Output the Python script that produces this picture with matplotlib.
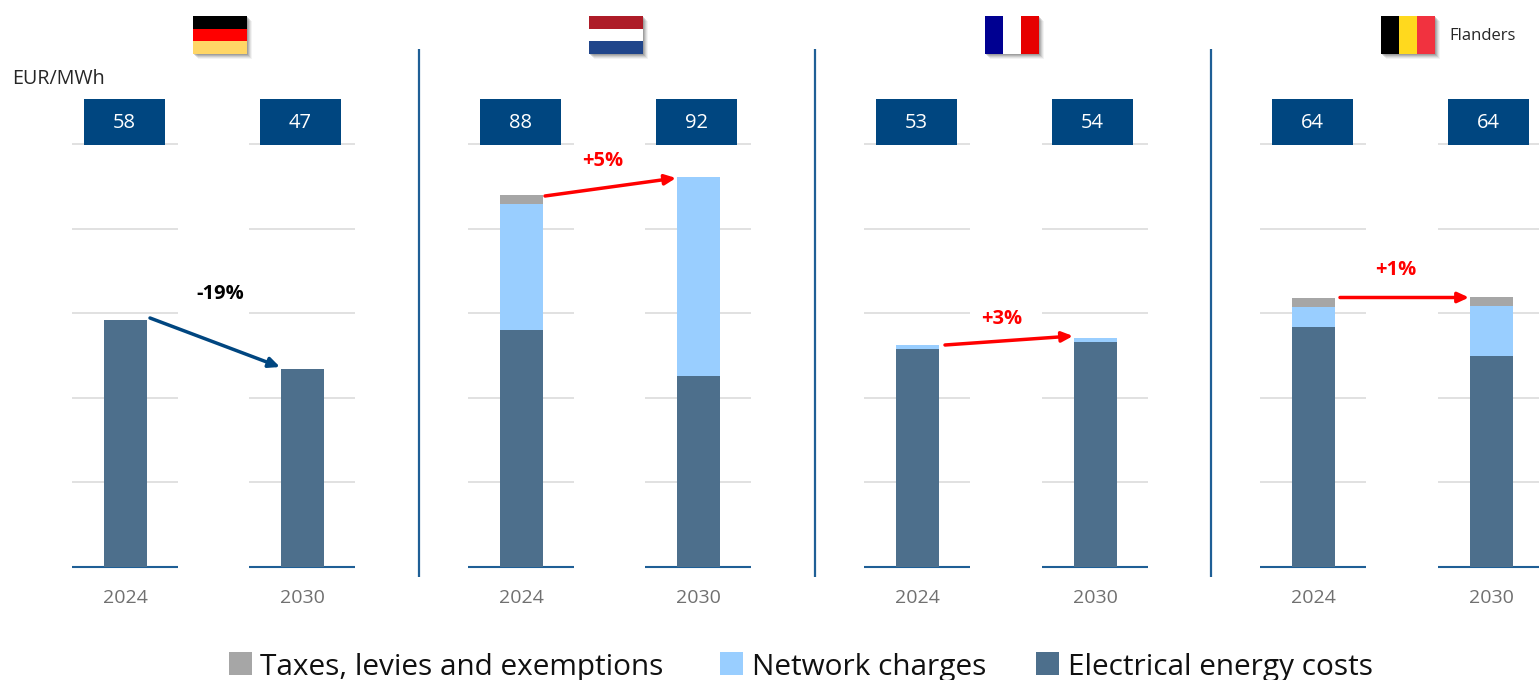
import matplotlib
matplotlib.use("Agg")
import matplotlib.pyplot as plt
from matplotlib.patches import Rectangle

plt.rcParams['font.family'] = ['Open Sans', 'DejaVu Sans']

W, H = 1539, 680
years = ["2024", "2030"]
countries = ["Germany", "Netherlands", "France", "Belgium"]
totals = [58, 47, 88, 92, 53, 54, 64, 64]
energy = [58.4, 46.8, 56.0, 45.2, 51.5, 53.2, 56.7, 49.9]
network = [0.0, 0.0, 29.8, 47.0, 1.0, 0.9, 4.7, 11.8]
taxes = [0.0, 0.0, 2.1, 0.0, 0.0, 0.0, 2.1, 2.1]
changes = ["-19%", "+5%", "+3%", "+1%"]
series_names = ["Taxes, levies and exemptions", "Network charges", "Electrical energy costs"]

C_ENERGY, C_NET, C_TAX = "#4d6f8c", "#99ceff", "#a6a6a6"
NAVY = "#004680"
DIV = "#1f5f96"

panel_left = [72, 249, 468, 645, 864, 1042, 1260, 1438]
PW = 106
Y0, Y100 = 567, 144
BAR_X = 0.005
BAR_W = 0.405

fig = plt.figure(figsize=(W / 100, H / 100), dpi=100, facecolor="white")

for i, left in enumerate(panel_left):
    ax = fig.add_axes([left / W, 1 - Y0 / H, PW / W, (Y0 - Y100) / H])
    ax.set_xlim(-0.5, 0.5)
    ax.set_ylim(0, 100)
    ax.bar(BAR_X, energy[i], BAR_W, color=C_ENERGY, zorder=3)
    ax.bar(BAR_X, network[i], BAR_W, bottom=energy[i], color=C_NET, zorder=3)
    ax.bar(BAR_X, taxes[i], BAR_W, bottom=energy[i] + network[i], color=C_TAX, zorder=3)
    ax.set_yticks([20, 40, 60, 80, 100])
    ax.grid(axis="y", color="#d9d9d9", lw=1.1, zorder=0)
    ax.set_xticks([0])
    ax.set_xticklabels([years[i % 2]], fontsize=14, color="#707070")
    ax.tick_params(axis="both", length=0, labelleft=False, pad=16)
    for s in ("top", "left", "right"):
        ax.spines[s].set_visible(False)
    ax.spines["bottom"].set_color(DIV)
    ax.spines["bottom"].set_linewidth(1.5)
    ax.spines["bottom"].set_capstyle("butt")
    ax.patch.set_alpha(0)
    for g in ax.get_ygridlines():
        g.set_clip_on(False)
        g.set_solid_capstyle("butt")

ov = fig.add_axes([0, 0, 1, 1], zorder=10)
ov.set_xlim(0, W)
ov.set_ylim(H, 0)
ov.axis("off")

# header boxes
for left, t in zip([84, 260, 480, 656, 876, 1052, 1272, 1448], totals):
    ov.add_patch(Rectangle((left, 99), 80.5, 46, fc=NAVY, ec="none"))
    ov.text(left + 40, 122.5, str(t), color="white", fontsize=14.5, ha="center", va="center")

# dividers
for x in [419, 815, 1211]:
    ov.plot([x, x], [49, 577], color=DIV, lw=1.6, solid_capstyle="butt")


def flag(x, stripes, vertical=False):
    w, h = 54, 38
    for d, a in [(6, 0.08), (5, 0.12), (4, 0.18), (3, 0.25), (2, 0.3)]:
        ov.add_patch(Rectangle((x + d - 1, 16 + d - 1), w, h, fc="#6e6e6e", ec="none", alpha=a))
    n = len(stripes)
    for k, c in enumerate(stripes):
        if vertical:
            ov.add_patch(Rectangle((x + k * w / n, 16), w / n, h, fc=c, ec="none"))
        else:
            ov.add_patch(Rectangle((x, 16 + k * h / n), w, h / n, fc=c, ec="none"))


flag(193, ["#000000", "#ff0000", "#ffd666"])
flag(589, ["#ae1c28", "#ffffff", "#21468b"])
flag(985, ["#000091", "#ffffff", "#e60000"], vertical=True)
flag(1381, ["#000000", "#ffd91e", "#f1323f"], vertical=True)
ov.text(1449, 36.5, "Flanders", fontsize=12, color="#262626", va="center")
ov.text(12, 78.5, "EUR/MWh", fontsize=14.2, color="#262626", va="center")

# change arrows
arrows = [
    (150, 318, 280, 367, NAVY, 220, 294, "black"),
    (545, 196, 676, 178, "#ff0000", 603, 161, "#ff0000"),
    (945, 345, 1073, 336, "#ff0000", 1002, 319, "#ff0000"),
    (1340, 297.5, 1469, 297.5, "#ff0000", 1396, 270, "#ff0000"),
]
for (x0, y0, x1, y1, c, tx, ty, tc), lab in zip(arrows, changes):
    ov.annotate("", xy=(x1, y1), xytext=(x0, y0),
                arrowprops=dict(arrowstyle="-|>,head_length=0.65,head_width=0.3",
                                color=c, lw=2.5, shrinkA=0, shrinkB=0))
    ov.text(tx, ty, lab, color=tc, fontsize=14.5, fontweight="bold", ha="center", va="center")

# legend
for sx, tx, name, c in zip([229, 720, 1036], [260, 752, 1068], series_names, [C_TAX, C_NET, C_ENERGY]):
    ov.add_patch(Rectangle((sx, 652), 23, 23, fc=c, ec="none"))
    ov.text(tx, 675, name, fontsize=21.4, color="#111111", va="baseline", ha="left")

fig.savefig("out.png", dpi=100)
